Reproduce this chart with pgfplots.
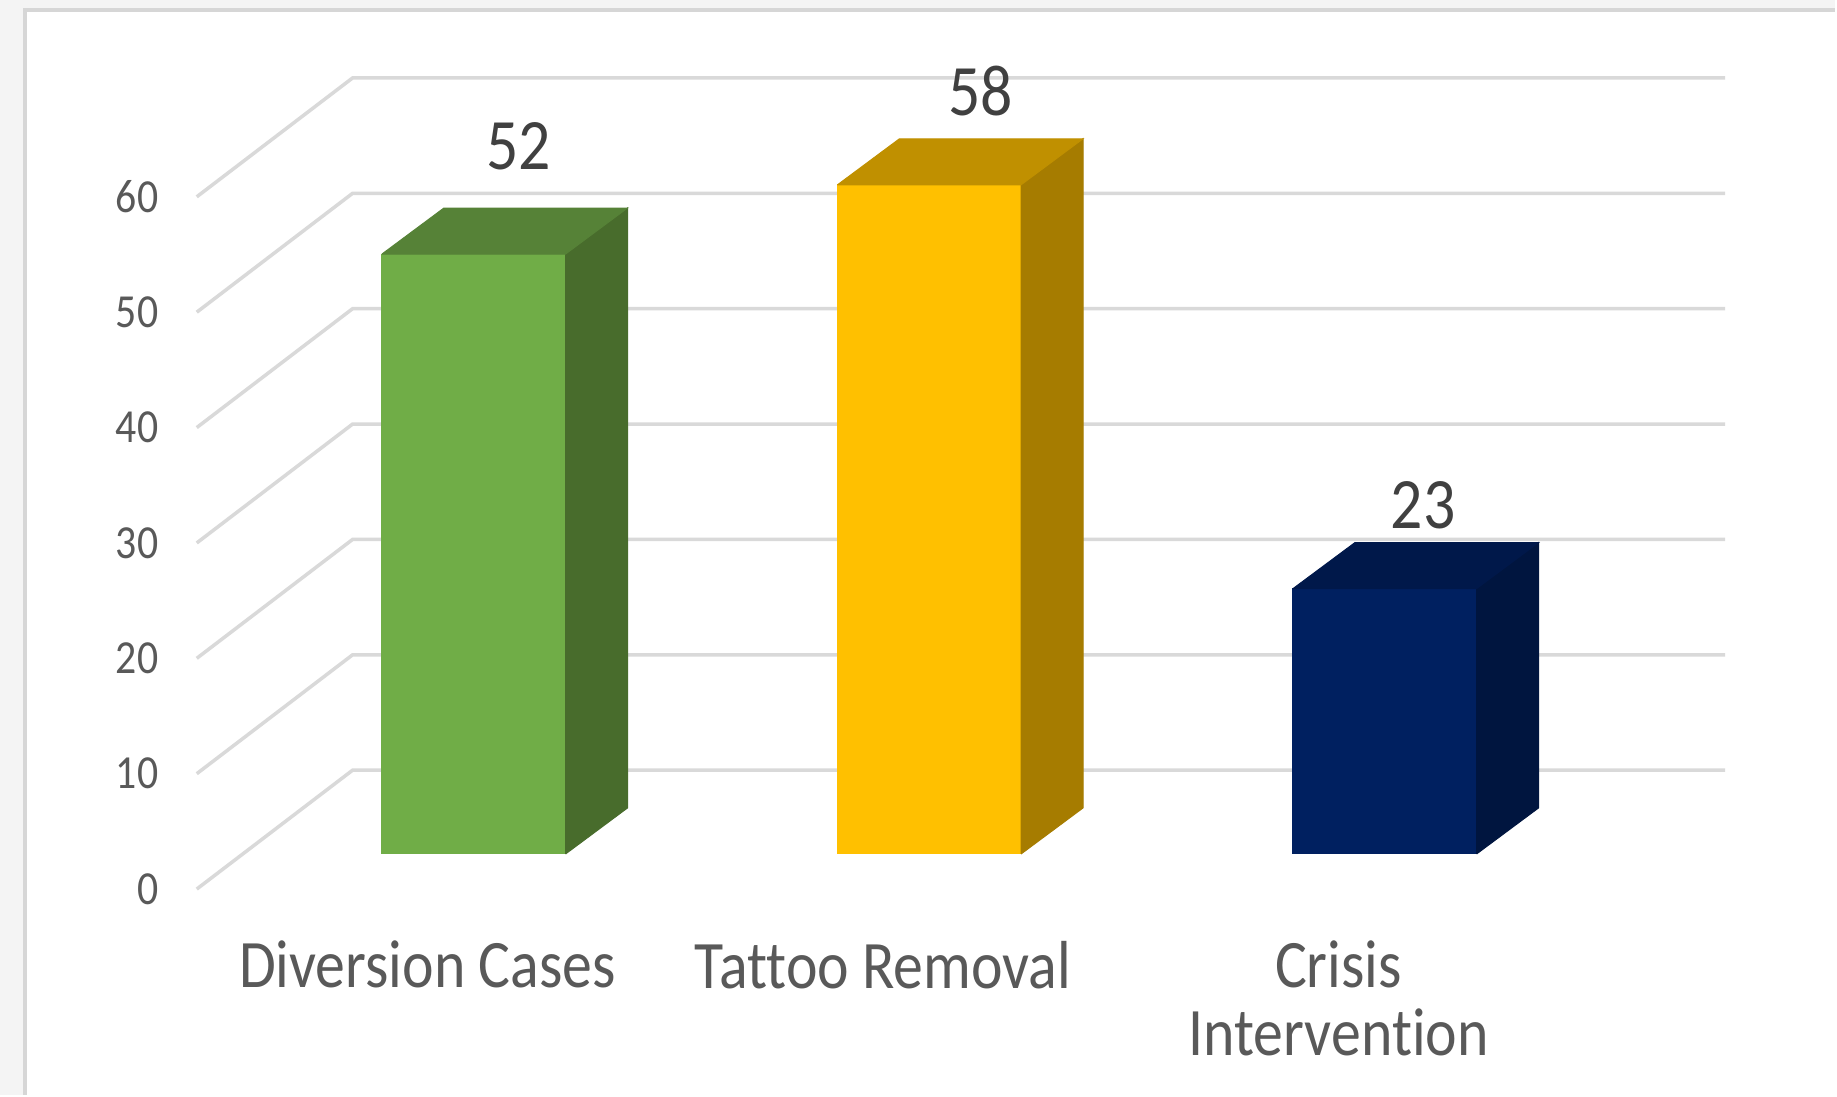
\documentclass[border=0pt]{standalone}
\usepackage{pgfplots}
\pgfplotsset{compat=1.18}
\usepackage{fontspec}
\setmainfont{Carlito}[FakeStretch=0.88, Ligatures=NoCommon]
\definecolor{gridc}{HTML}{D9D9D9}
\definecolor{framec}{HTML}{D6D6D6}
\definecolor{outerbg}{HTML}{F4F4F4}
\definecolor{labgray}{HTML}{595959}
\definecolor{datagray}{HTML}{404040}
\definecolor{gfront}{HTML}{70AD47}
\definecolor{gtop}{HTML}{568237}
\definecolor{gside}{HTML}{486C2C}
\definecolor{yfront}{HTML}{FFC000}
\definecolor{ytop}{HTML}{C09000}
\definecolor{yside}{HTML}{A67C00}
\definecolor{nfront}{HTML}{002060}
\definecolor{ntop}{HTML}{00184A}
\definecolor{nside}{HTML}{00153F}
\begin{document}
\begin{tikzpicture}
\begin{axis}[
  set layers=standard,
  x=91.2pt, y=2.31pt,
  xmin=-0.5066, xmax=2.8487, ymin=-4.42, ymax=70.3,
  clip=false,
  axis line style={draw=none},
  major tick length=0pt,
  xtick={0,1,2},
  xticklabels={Diversion Cases, Tattoo Removal, {Crisis\\Intervention}},
  xticklabel style={anchor=north, inner sep=0pt, align=center,
    font=\fontsize{13.6pt}{13.6pt}\selectfont, text=labgray},
  ytick={0,10,...,60},
  yticklabel style={anchor=east, inner sep=0pt, xshift=-7.5pt,
    font=\fontsize{9.5pt}{9.5pt}\selectfont, text=labgray},
  /pgf/number format/assume math mode=true,
  grid=none,
]
% frame / background
\begin{pgfonlayer}{axis background}
\fill[outerbg] (axis cs:-0.9386,-17.84) rectangle (axis cs:3.0899,77.06);
\fill[white] (axis cs:-0.8794,-17.84) rectangle (axis cs:3.0899,76.02);
\draw[framec, line width=0.8pt] (axis cs:-0.8838,-17.84) -- (axis cs:-0.8838,76.19) -- (axis cs:3.0899,76.19);
\end{pgfonlayer}
% gridlines: floor diagonal + back wall
\draw[gridc, line width=0.7pt] (axis cs:-0.5066,0)  -- (axis cs:-0.1646,10.3) -- (axis cs:2.8487,10.3);
\draw[gridc, line width=0.7pt] (axis cs:-0.5066,10) -- (axis cs:-0.1646,20.3) -- (axis cs:2.8487,20.3);
\draw[gridc, line width=0.7pt] (axis cs:-0.5066,20) -- (axis cs:-0.1646,30.3) -- (axis cs:2.8487,30.3);
\draw[gridc, line width=0.7pt] (axis cs:-0.5066,30) -- (axis cs:-0.1646,40.3) -- (axis cs:2.8487,40.3);
\draw[gridc, line width=0.7pt] (axis cs:-0.5066,40) -- (axis cs:-0.1646,50.3) -- (axis cs:2.8487,50.3);
\draw[gridc, line width=0.7pt] (axis cs:-0.5066,50) -- (axis cs:-0.1646,60.3) -- (axis cs:2.8487,60.3);
\draw[gridc, line width=0.7pt] (axis cs:-0.5066,60) -- (axis cs:-0.1646,70.3) -- (axis cs:2.8487,70.3);
% Diversion Cases = 52
\addplot[fill=gfront, draw=gfront, line width=0.2pt] coordinates {(-0.100,3.04) (0.303,3.04) (0.303,55.04) (-0.100,55.04) (-0.100,3.04)};
\addplot[fill=gside, draw=gside, line width=0.2pt] coordinates {(0.303,3.04) (0.439,7.03) (0.439,59.03) (0.303,55.04) (0.303,3.04)};
\addplot[fill=gtop, draw=gtop, line width=0.2pt] coordinates {(-0.100,55.04) (0.303,55.04) (0.439,59.03) (0.036,59.03) (-0.100,55.04)};
% Tattoo Removal = 58
\addplot[fill=yfront, draw=yfront, line width=0.2pt] coordinates {(0.900,3.04) (1.303,3.04) (1.303,61.04) (0.900,61.04) (0.900,3.04)};
\addplot[fill=yside, draw=yside, line width=0.2pt] coordinates {(1.303,3.04) (1.439,7.03) (1.439,65.03) (1.303,61.04) (1.303,3.04)};
\addplot[fill=ytop, draw=ytop, line width=0.2pt] coordinates {(0.900,61.04) (1.303,61.04) (1.439,65.03) (1.036,65.03) (0.900,61.04)};
% Crisis Intervention = 23
\addplot[fill=nfront, draw=nfront, line width=0.2pt] coordinates {(1.900,3.04) (2.303,3.04) (2.303,26.04) (1.900,26.04) (1.900,3.04)};
\addplot[fill=nside, draw=nside, line width=0.2pt] coordinates {(2.303,3.04) (2.439,7.03) (2.439,30.03) (2.303,26.04) (2.303,3.04)};
\addplot[fill=ntop, draw=ntop, line width=0.2pt] coordinates {(1.900,26.04) (2.303,26.04) (2.439,30.03) (2.036,30.03) (1.900,26.04)};
% data labels
\node[font=\fontsize{14.5pt}{14.5pt}\selectfont, text=datagray] at (axis cs:0.1996,64.4) {52};
\node[font=\fontsize{14.5pt}{14.5pt}\selectfont, text=datagray] at (axis cs:1.215,69.2) {58};
\node[font=\fontsize{14.5pt}{14.5pt}\selectfont, text=datagray] at (axis cs:2.186,33.3) {23};
\end{axis}
\end{tikzpicture}
\end{document}
